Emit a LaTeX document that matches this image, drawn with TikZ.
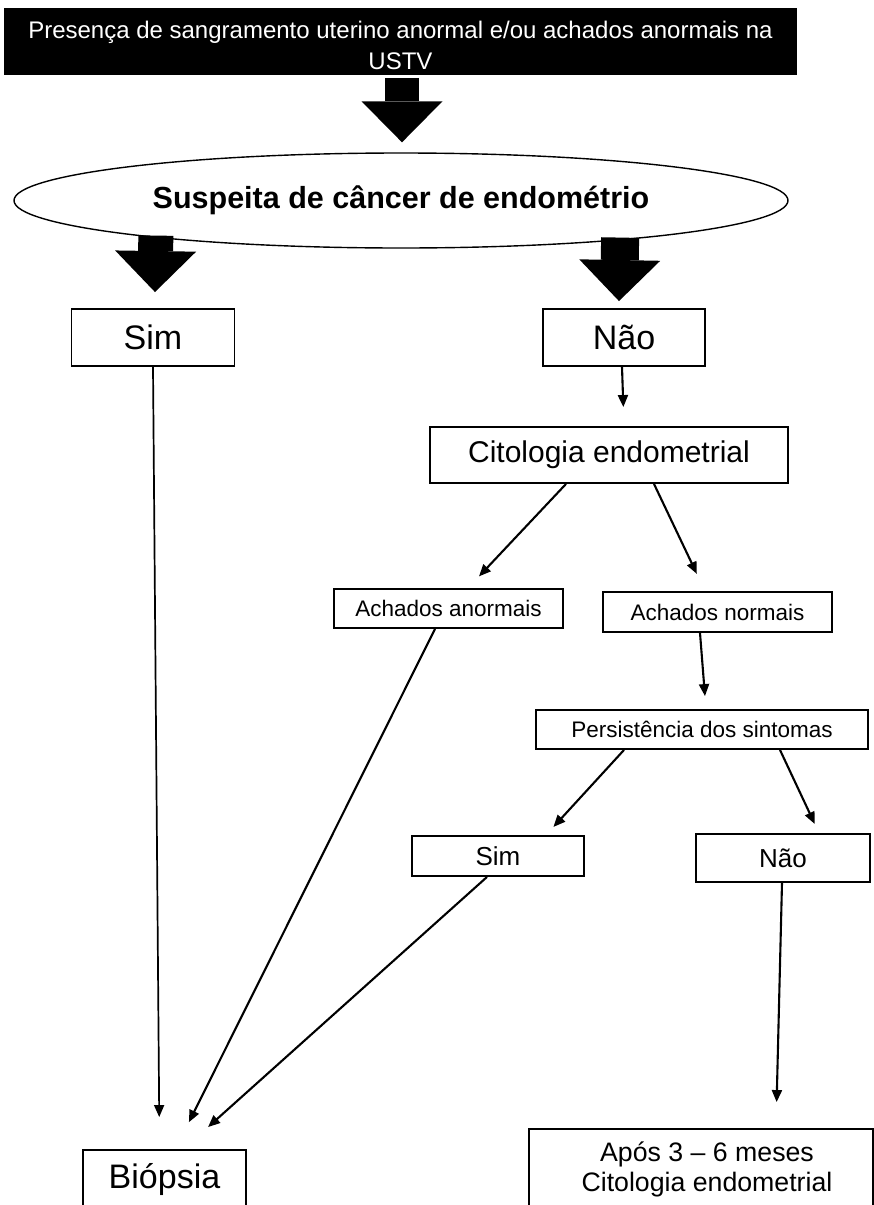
\documentclass[tikz,border=0pt]{standalone}
\usepackage{fontspec}
\setmainfont{Liberation Sans}
\usetikzlibrary{shapes.geometric,arrows.meta,calc}
\begin{document}
\begin{tikzpicture}[x=1pt,y=-1pt,
  box/.style={draw, line width=1.9pt, rectangle, inner sep=0pt, align=center},
  conn/.style={line width=2.1pt, -{Triangle[length=12pt 0 0,width=10pt 0 0]}},
  blockarrow/.style={line width=#1, -{Triangle[length=41pt 0 0,width=81pt 0 0,line width=0pt]}},
]
\useasboundingbox (0,0) rectangle (874,1205);

\node[box, fill=black, minimum width=791pt, minimum height=65pt] (top) at (400.5,41.5) {};
\node[text=white, inner sep=0pt, align=center, font=\fontsize{24pt}{29pt}\selectfont] (toptext)
  at ($(top.center)+(0,4.3)$)
  {Presença de sangramento uterino anormal e/ou achados anormais na\\[2pt]USTV};

\node[ellipse, draw, line width=1.4pt, minimum width=774pt, minimum height=95pt, inner sep=0pt,
      font=\bfseries\fontsize{30.5pt}{36pt}\selectfont] (susp) at (401,200.5)
  {Suspeita de câncer de endométrio};

\node[box, minimum width=163pt, minimum height=57pt, font=\fontsize{34pt}{40pt}\selectfont] (sim) at (153,337.5) {Sim};
\node[box, minimum width=162pt, minimum height=57pt, font=\fontsize{34pt}{40pt}\selectfont] (nao) at (624,337.5) {Não};
\node[box, minimum width=358pt, minimum height=56pt, font=\fontsize{30pt}{36pt}\selectfont] (cito) at (609,455) {Citologia endometrial};
\node[box, minimum width=229pt, minimum height=39pt, font=\fontsize{22.5pt}{27pt}\selectfont] (anorm) at (448.5,608.5) {Achados anormais};
\node[box, minimum width=229pt, minimum height=40pt, font=\fontsize{22.5pt}{27pt}\selectfont] (norm) at (717.5,612) {Achados normais};
\node[box, minimum width=332pt, minimum height=39pt, font=\fontsize{22.5pt}{27pt}\selectfont] (pers) at (702,729.5) {Persistência dos sintomas};
\node[box, minimum width=172pt, minimum height=40pt, font=\fontsize{26pt}{31pt}\selectfont] (sim2) at (498,856) {Sim};
\node[box, minimum width=174pt, minimum height=48pt, font=\fontsize{26pt}{31pt}\selectfont] (nao2) at (783,858) {Não};
\node[box, minimum width=163pt, minimum height=58pt, font=\fontsize{34pt}{40pt}\selectfont] (biop) at (164.5,1179) {Biópsia};
\node[box, minimum width=344pt, minimum height=81pt, font=\fontsize{26.7pt}{30pt}\selectfont] (apos) at (701,1169.5)
  {\hspace*{12pt}Após 3 – 6 meses\\\hspace*{12pt}Citologia endometrial};

% block arrows
\draw[blockarrow=34pt] ($(top.south)+(1.5,3)$) -- ($(susp.north)+(1,-10)$);
\draw[blockarrow=35pt] ($(susp.south west)+(29,1)$) -- ($(sim.north)+(2,-16)$);
\draw[blockarrow=38pt] ($(susp.south east)+(-55,3)$) -- ($(nao.north)+(-5,-7)$);

% thin arrows
\draw[conn, shorten >=19pt] ([xshift=-2pt]nao.south) -- ([xshift=15pt]cito.north);
\draw[conn, shorten >=16pt] ([xshift=-43pt]cito.south) -- ([xshift=19.5pt]anorm.north);
\draw[conn, shorten >=19pt] ([xshift=45pt]cito.south) -- ([xshift=-12.5pt]norm.north);
\draw[conn, shorten >=13pt] ([xshift=-17.5pt]norm.south) -- ([xshift=4pt]pers.north);
\draw[conn, shorten >=11pt] ([xshift=-78pt]pers.south) -- ([xshift=48pt]sim2.north);
\draw[conn, shorten >=10pt] ([xshift=78pt]pers.south) -- ([xshift=36pt]nao2.north);
\draw[conn, shorten >=26pt] ([xshift=-1pt]nao2.south) -- ([xshift=75pt]apos.north);
\draw[conn, line width=1.7pt, shorten >=32pt] (sim.south) -- ([xshift=-5pt]biop.north);
\draw[conn, shorten >=30pt] ([xshift=-13.5pt]anorm.south) -- ([xshift=11pt]biop.north);
\draw[conn, shorten >=33pt] ([xshift=-11pt]sim2.south) -- ([xshift=19pt]biop.north);
\end{tikzpicture}
\end{document}
